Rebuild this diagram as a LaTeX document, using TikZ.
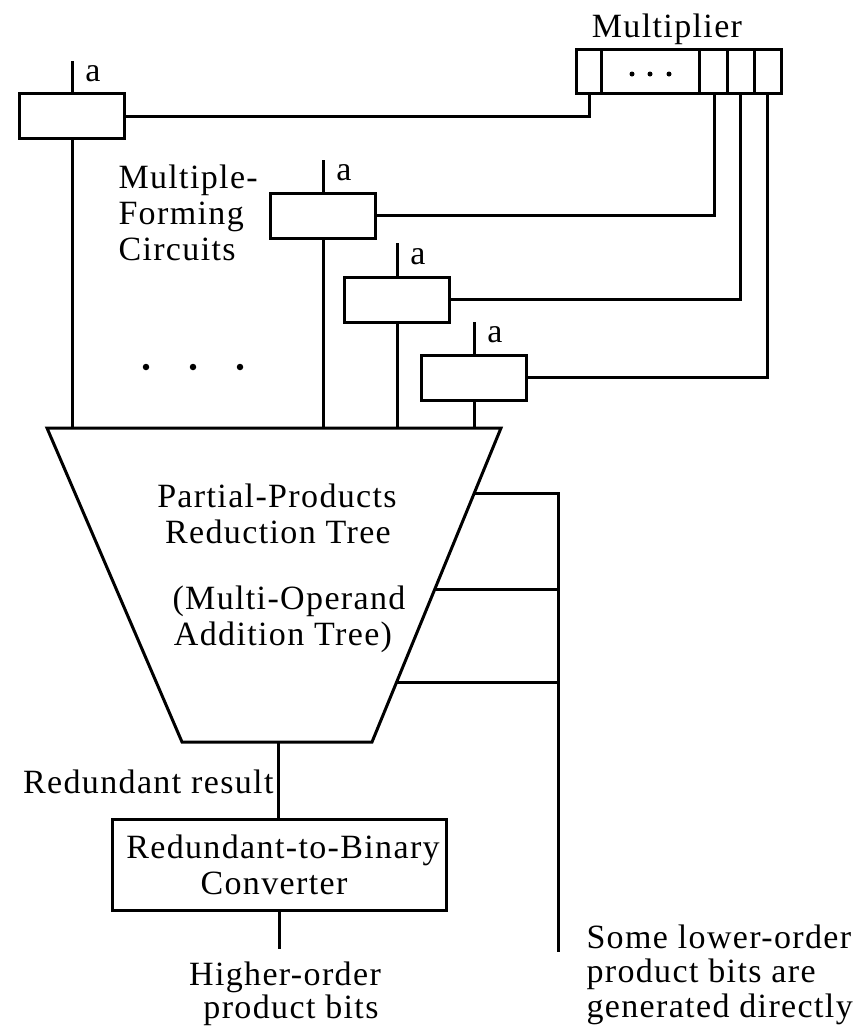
\documentclass[tikz,border=0pt]{standalone}
\usepackage{fontspec}
\setmainfont{Liberation Serif}[LetterSpace=4.0]
\usetikzlibrary{calc}
\begin{document}
\begin{tikzpicture}[x=1pt,y=-1pt,line width=3pt,
  txt/.style={inner sep=0pt,font=\fontsize{34}{36}\selectfont},
  mfbox/.style={draw,minimum width=105pt,minimum height=45pt,inner sep=0pt},
  convbox/.style={draw,minimum width=334pt,minimum height=91pt,inner sep=0pt},
  regbox/.style={draw,minimum width=205pt,minimum height=44pt,inner sep=0pt},
  dot/.style={fill,circle,inner sep=0pt,minimum size=#1}]
\useasboundingbox (0,0) rectangle (866,1029);

% multiplier register
\node[regbox] (reg) at (678.5,71) {};
\foreach \xx in {601,699,727,754} \draw (\xx,49) -- (\xx,93);
\foreach \xx in {632,650,669} \node[dot=5pt] at (\xx,74) {};
\node[txt,anchor=base] (multlbl) at (667,37) {Multiplier};
\coordinate (t1) at (589,93);
\coordinate (t2) at (714,93);
\coordinate (t3) at (740,93);
\coordinate (t4) at (767,93);

% multiple-forming boxes
\node[mfbox] (m1) at (72,116) {};
\node[mfbox] (m2) at (323,215.5) {};
\node[mfbox] (m3) at (397,299.5) {};
\node[mfbox] (m4) at (474,377.5) {};

% input "a" lines
\coordinate (a1) at (72,61);
\coordinate (a2) at (323,160);
\coordinate (a3) at (397,243);
\coordinate (a4) at (474,322);
\foreach \i in {1,2,3,4} {
  \draw (a\i) -- (m\i.north);
  \node[txt,anchor=base] at ($(m\i.north)+(21,-11)$) {a};
}

% connections from register
\draw (m1.east) -- (m1.east -| t1) -- (t1);
\draw (m2.east) -- (m2.east -| t2) -- (t2);
\draw (m3.east) -- (m3.east -| t3) -- (t3);
\draw (m4.east) -- (m4.east -| t4) -- (t4);

% labels
\node[txt,anchor=base west] at (117,188) {Multiple-};
\node[txt,anchor=base west] at (117,224) {Forming};
\node[txt,anchor=base west] at (117,260) {Circuits};
\foreach \xx in {146,193,240} \node[dot=6.5pt] at (\xx,367) {};

% reduction tree (trapezoid)
\coordinate (tl) at (47,428);
\coordinate (tr) at (501,428);
\coordinate (br) at (372,742);
\coordinate (bl) at (182,742);
\draw[line join=miter] (tl) -- (tr) -- (br) -- (bl) -- cycle;
\node[txt,anchor=base] at (277,507) {Partial-Products};
\node[txt,anchor=base] at (278,543) {Reduction Tree};
\node[txt,anchor=base] at (289,609) {(Multi-Operand};
\node[txt,anchor=base] at (283,645) {Addition Tree)};

% outputs of multiple-forming boxes into tree
\foreach \i in {1,2,3,4} \draw (m\i.south) -- (m\i.south |- tl);

% lower-order bits bus
\coordinate (s1) at ($(tr)!0.207!(br)$);
\coordinate (s2) at ($(tr)!0.513!(br)$);
\coordinate (s3) at ($(tr)!0.809!(br)$);
\coordinate (bus) at (558,952);
\draw (s1) -- (s1 -| bus) -- (bus);
\draw (s2) -- (s2 -| bus);
\draw (s3) -- (s3 -| bus);
\node[txt,anchor=base west] at (585,948) {Some lower-order};
\node[txt,anchor=base west] at (585,982) {product bits are};
\node[txt,anchor=base west] at (585,1017) {generated directly};

% converter
\coordinate (tb) at (278,742);
\node[convbox] (conv) at (279,864.5) {};
\draw (tb) -- (tb |- conv.north);
\node[txt,anchor=base east] at (275,793) {Redundant result};
\node[txt,anchor=base] at (283,858) {Redundant-to-Binary};
\node[txt,anchor=base] at (274,894) {Converter};
\coordinate (hout) at (279,949);
\draw (conv.south) -- (hout);
\node[txt,anchor=base] at (285,985) {Higher-order};
\node[txt,anchor=base] at (291,1018) {product bits};
\end{tikzpicture}
\end{document}
